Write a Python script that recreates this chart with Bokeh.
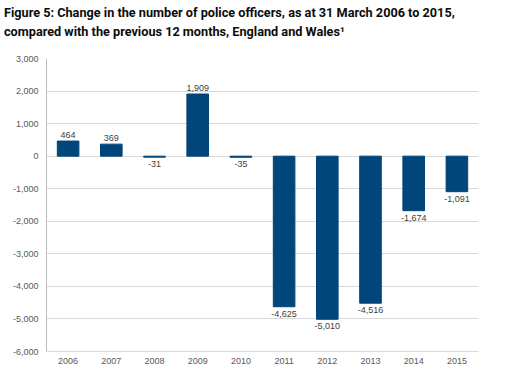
from bokeh.plotting import figure
from bokeh.models import ColumnDataSource, NumeralTickFormatter, FixedTicker, Range1d, Div
from bokeh.layouts import column
from bokeh.core.properties import value
from bokeh.embed import file_html
from bokeh.resources import INLINE

years = ["2006", "2007", "2008", "2009", "2010", "2011", "2012", "2013", "2014", "2015"]
changes = [464, 369, -31, 1909, -35, -4625, -5010, -4516, -1674, -1091]
labels = ["464", "369", "-31", "1,909", "-35", "-4,625", "-5,010", "-4,516", "-1,674", "-1,091"]
y_ticks = [3000, 2000, 1000, 0, -1000, -2000, -3000, -4000, -5000, -6000]
title_lines = ["Figure 5: Change in the number of police officers, as at 31 March 2006 to 2015,",
               "compared with the previous 12 months, England and Wales\u00b9"]

BAR = "#00467a"
GRID = "#d9d9d9"
TXT = "#595959"

pos = [(y, v, l) for y, v, l in zip(years, changes, labels) if v >= 0]
neg = [(y, v, l) for y, v, l in zip(years, changes, labels) if v < 0]

src = ColumnDataSource(dict(x=years, top=changes))
src_pos = ColumnDataSource(dict(x=[a for a, _, _ in pos], y=[b for _, b, _ in pos], t=[c for _, _, c in pos]))
src_neg = ColumnDataSource(dict(x=[a for a, _, _ in neg], y=[b for _, b, _ in neg], t=[c for _, _, c in neg]))

title = Div(text="<br>".join(title_lines), width=508, height=44,
            styles={"font-family": "Roboto", "font-size": "12.7px", "font-weight": "bold",
                    "line-height": "19px", "color": "#0b0c0c", "padding-left": "4px",
                    "padding-top": "3px", "margin": "0", "white-space": "nowrap"})

p = figure(x_range=years, y_range=Range1d(-6000, 3000), width=508, height=329,
           output_backend="svg", toolbar_location=None,
           min_border_left=46, min_border_right=30, min_border_bottom=22, min_border_top=14)

p.vbar(x="x", top="top", bottom=0, width=0.5, color=BAR, source=src)

p.text(x="x", y="y", text="t", source=src_pos, text_align="center", text_baseline="bottom",
       y_offset=-3, text_font_size="9px", text_color="#404040", text_font=value("Liberation Sans"))
p.text(x="x", y="y", text="t", source=src_neg, text_align="center", text_baseline="top",
       y_offset=4, text_font_size="9px", text_color="#404040", text_font=value("Liberation Sans"))

p.yaxis.ticker = FixedTicker(ticks=y_ticks)
p.yaxis.formatter = NumeralTickFormatter(format="0,0")
p.yaxis.major_tick_line_color = None
p.yaxis.major_tick_out = 0
p.yaxis.minor_tick_line_color = None
p.yaxis.axis_line_color = "#bfbfbf"
p.yaxis.major_label_text_font = "Liberation Sans"
p.yaxis.major_label_text_font_size = "9px"
p.yaxis.major_label_text_color = TXT
p.yaxis.major_label_standoff = 8

p.xaxis.major_tick_line_color = None
p.xaxis.major_tick_out = 0
p.xaxis.axis_line_color = GRID
p.xaxis.major_label_text_font = "Liberation Sans"
p.xaxis.major_label_text_font_size = "9px"
p.xaxis.major_label_text_color = TXT
p.xaxis.major_label_standoff = 6

p.xgrid.grid_line_color = None
p.ygrid.grid_line_color = GRID
p.ygrid.ticker = FixedTicker(ticks=y_ticks)
p.outline_line_color = None

layout = column(title, p, spacing=0)

open("out.html", "w").write(file_html(layout, INLINE))
